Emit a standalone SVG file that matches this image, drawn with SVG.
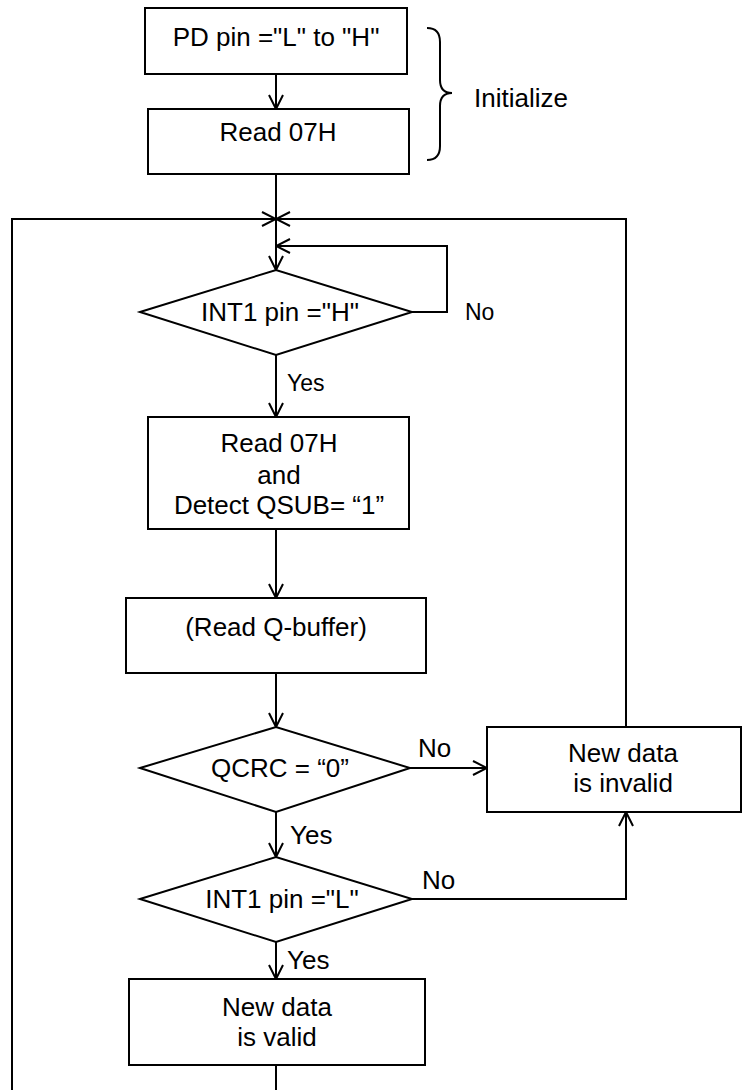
<svg xmlns="http://www.w3.org/2000/svg" width="755" height="1090" viewBox="0 0 755 1090">
<style>
.n{fill:#fff;stroke:#000;stroke-width:2}
.c{fill:none;stroke:#000;stroke-width:2}
text{font-family:"Liberation Sans",Arial,sans-serif;font-size:26px;fill:#000}
.m{text-anchor:middle}
.s{font-size:23px}
</style>
<defs>
<marker id="a" markerUnits="userSpaceOnUse" viewBox="0 0 16 16" refX="15" refY="8" markerWidth="16" markerHeight="16" orient="auto">
<path d="M1,1 L15,8 L1,15" fill="none" stroke="#000" stroke-width="2"/>
</marker>
</defs>
<g id="connectors">
<line class="c" x1="276" y1="74" x2="276" y2="109" marker-end="url(#a)"/>
<line class="c" x1="276" y1="174" x2="276" y2="270" marker-end="url(#a)"/>
<polyline class="c" points="12,1090 12,219 276,219" marker-end="url(#a)"/>
<polyline class="c" points="626,727 626,219 276,219" marker-end="url(#a)"/>
<polyline class="c" points="412,312 447,312 447,246 276,246" marker-end="url(#a)"/>
<line class="c" x1="276" y1="355" x2="276" y2="417" marker-end="url(#a)"/>
<line class="c" x1="276" y1="529" x2="276" y2="598" marker-end="url(#a)"/>
<line class="c" x1="276" y1="673" x2="276" y2="727" marker-end="url(#a)"/>
<line class="c" x1="410" y1="768" x2="487" y2="768" marker-end="url(#a)"/>
<line class="c" x1="276" y1="812" x2="276" y2="857" marker-end="url(#a)"/>
<polyline class="c" points="412,899 626,899 626,812" marker-end="url(#a)"/>
<line class="c" x1="276" y1="942" x2="276" y2="979" marker-end="url(#a)"/>
<line class="c" x1="276" y1="1065" x2="276" y2="1090"/>
<text class="s" x="465" y="320">No</text>
<text class="s" x="287" y="391">Yes</text>
<text x="418" y="757">No</text>
<text x="290" y="844">Yes</text>
<text x="422" y="889">No</text>
<text x="287" y="969">Yes</text>
</g>
<g id="pd">
<rect class="n" x="145" y="8" width="262" height="66"/>
<text class="m" x="276" y="46">PD pin ="L" to "H"</text>
</g>
<g id="read1">
<rect class="n" x="148" y="109" width="261" height="65"/>
<text class="m" x="278" y="141">Read 07H</text>
</g>
<g id="init">
<path class="c" d="M427,28 Q440,28 440,42 L440,80 Q440,93 452,93 Q440,93 440,106 L440,146 Q440,160 427,160"/>
<text x="474" y="107">Initialize</text>
</g>
<g id="int1h">
<polygon class="n" points="140,312 276,270 412,312 276,355"/>
<text class="m" x="280" y="321">INT1 pin ="H"</text>
</g>
<g id="read2">
<rect class="n" x="148" y="417" width="261" height="112"/>
<text class="m" x="279" y="452">Read 07H</text>
<text class="m" x="279" y="484">and</text>
<text class="m" x="279" y="514">Detect QSUB= “1”</text>
</g>
<g id="qbuf">
<rect class="n" x="126" y="598" width="300" height="75"/>
<text class="m" x="276" y="636">(Read Q-buffer)</text>
</g>
<g id="qcrc">
<polygon class="n" points="140,768 276,727 410,768 276,812"/>
<text class="m" x="280" y="777">QCRC = “0”</text>
</g>
<g id="invalid">
<rect class="n" x="487" y="727" width="254" height="85"/>
<text class="m" x="623" y="762">New data</text>
<text class="m" x="623" y="792">is invalid</text>
</g>
<g id="int1l">
<polygon class="n" points="140,899 276,857 412,899 276,942"/>
<text class="m" x="282" y="908">INT1 pin ="L"</text>
</g>
<g id="valid">
<rect class="n" x="129" y="979" width="296" height="86"/>
<text class="m" x="277" y="1016">New data</text>
<text class="m" x="277" y="1046">is valid</text>
</g>
</svg>
